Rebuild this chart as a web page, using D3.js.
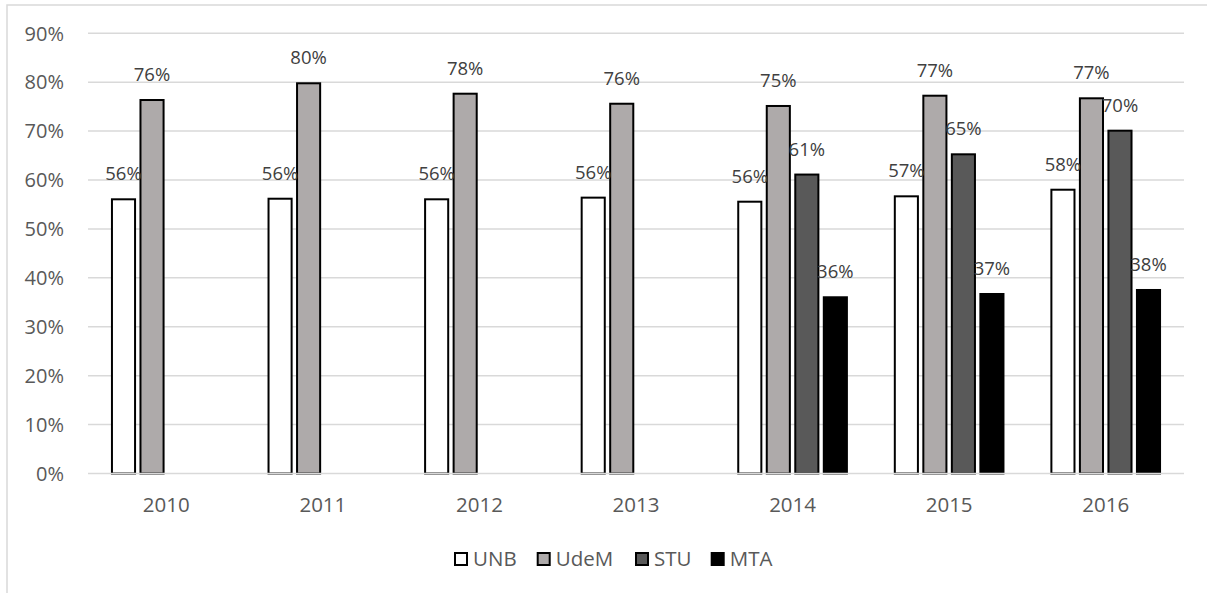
<!DOCTYPE html>
<html>
<head>
<meta charset="utf-8">
<title>Bar Chart</title>
<style>
  body { margin: 0; background: #fff; }
  text { font-family: "Open Sans", "Noto Sans", sans-serif; }
</style>
<script src="https://d3js.org/d3.v7.min.js"></script>
</head>
<body>
<svg width="1207" height="593"></svg>
<script>
// data
var years = ["2010", "2011", "2012", "2013", "2014", "2015", "2016"];
var series = ["UNB", "UdeM", "STU", "MTA"];
var unb  = [0.5606, 0.5618, 0.5606, 0.564, 0.5557, 0.5667, 0.5802];
var udem = [0.7636, 0.7978, 0.7765, 0.756, 0.7514, 0.7724, 0.7671];
var stu  = [null, null, null, null, 0.6112, 0.6526, 0.7009];
var mta  = [null, null, null, null, 0.3603, 0.367, 0.3752];
var yTicks = [0, 0.1, 0.2, 0.3, 0.4, 0.5, 0.6, 0.7, 0.8, 0.9];
var colors = {UNB: "#ffffff", UdeM: "#aeaaaa", STU: "#595959", MTA: "#000000"};

var values = {UNB: unb, UdeM: udem, STU: stu, MTA: mta};
var rows = [];
years.forEach(function(yr, i){
  series.forEach(function(s){
    if (values[s][i] != null) rows.push({year: yr, key: s, value: values[s][i]});
  });
});

var svg = d3.select("svg");
svg.append("rect").attr("width", 1207).attr("height", 593).attr("fill", "#fff");
// outer chart border (runs off the right/bottom edges)
svg.append("rect")
  .attr("x", 7).attr("y", 5).attr("width", 1400).attr("height", 800)
  .attr("fill", "none").attr("stroke", "#d9d9d9").attr("stroke-width", 1.5);

var plotL = 88, plotR = 1184, plotT = 33.3, plotB = 473.5;

var x0 = d3.scaleBand().domain(years).range([plotL, plotR]);
var x1 = d3.scaleBand().domain(series).range([0, x0.bandwidth()])
  .paddingInner(0.19).paddingOuter(0.84);
var yScale = d3.scaleLinear().domain([0, 0.9]).range([plotB, plotT]);
var pct = d3.format(".0%");

// gridlines
svg.append("g").selectAll("line").data(yTicks.slice(1)).join("line")
  .attr("x1", plotL).attr("x2", plotR)
  .attr("y1", d => yScale(d)).attr("y2", d => yScale(d))
  .attr("stroke", "#d9d9d9").attr("stroke-width", 1.5);

// y labels
svg.append("g").selectAll("text").data(yTicks).join("text")
  .attr("x", 64).attr("y", d => yScale(d)).attr("dy", "0.36em")
  .attr("text-anchor", "end").attr("fill", "#595959")
  .style("font-size", "20px")
  .text(d => pct(d));

// bars
svg.append("g").selectAll("rect").data(rows).join("rect")
  .attr("x", d => x0(d.year) + x1(d.key))
  .attr("width", x1.bandwidth())
  .attr("y", d => yScale(d.value))
  .attr("height", d => plotB - yScale(d.value))
  .attr("fill", d => colors[d.key])
  .attr("stroke", "#000").attr("stroke-width", 2);

// baseline
svg.append("line")
  .attr("x1", plotL).attr("x2", plotR).attr("y1", plotB).attr("y2", plotB)
  .attr("stroke", "#d9d9d9").attr("stroke-width", 1.5);

// data labels
svg.append("g").selectAll("text").data(rows).join("text")
  .attr("x", d => x0(d.year) + x1(d.key) + x1.bandwidth() / 2)
  .attr("y", d => yScale(d.value) - 19)
  .attr("text-anchor", "middle").attr("fill", "#404040")
  .style("font-size", "18.5px")
  .text(d => pct(d.value));

// x labels
svg.append("g").selectAll("text").data(years).join("text")
  .attr("x", d => x0(d) + x0.bandwidth() / 2).attr("y", 511.5)
  .attr("text-anchor", "middle").attr("fill", "#595959")
  .style("font-size", "20.5px")
  .text(d => d);

// legend
var legendX = [454, 536.7, 635, 710.7];
var lg = svg.append("g").selectAll("g").data(series).join("g")
  .attr("transform", (d, i) => `translate(${legendX[i]},552)`);
lg.append("rect").attr("x", 1).attr("y", 1).attr("width", 12).attr("height", 12)
  .attr("fill", d => colors[d]).attr("stroke", "#000").attr("stroke-width", 2);
lg.append("text").attr("x", 19).attr("y", 7).attr("dy", "0.36em")
  .attr("fill", "#595959").style("font-size", "20.5px")
  .text(d => d);
</script>
</body>
</html>
